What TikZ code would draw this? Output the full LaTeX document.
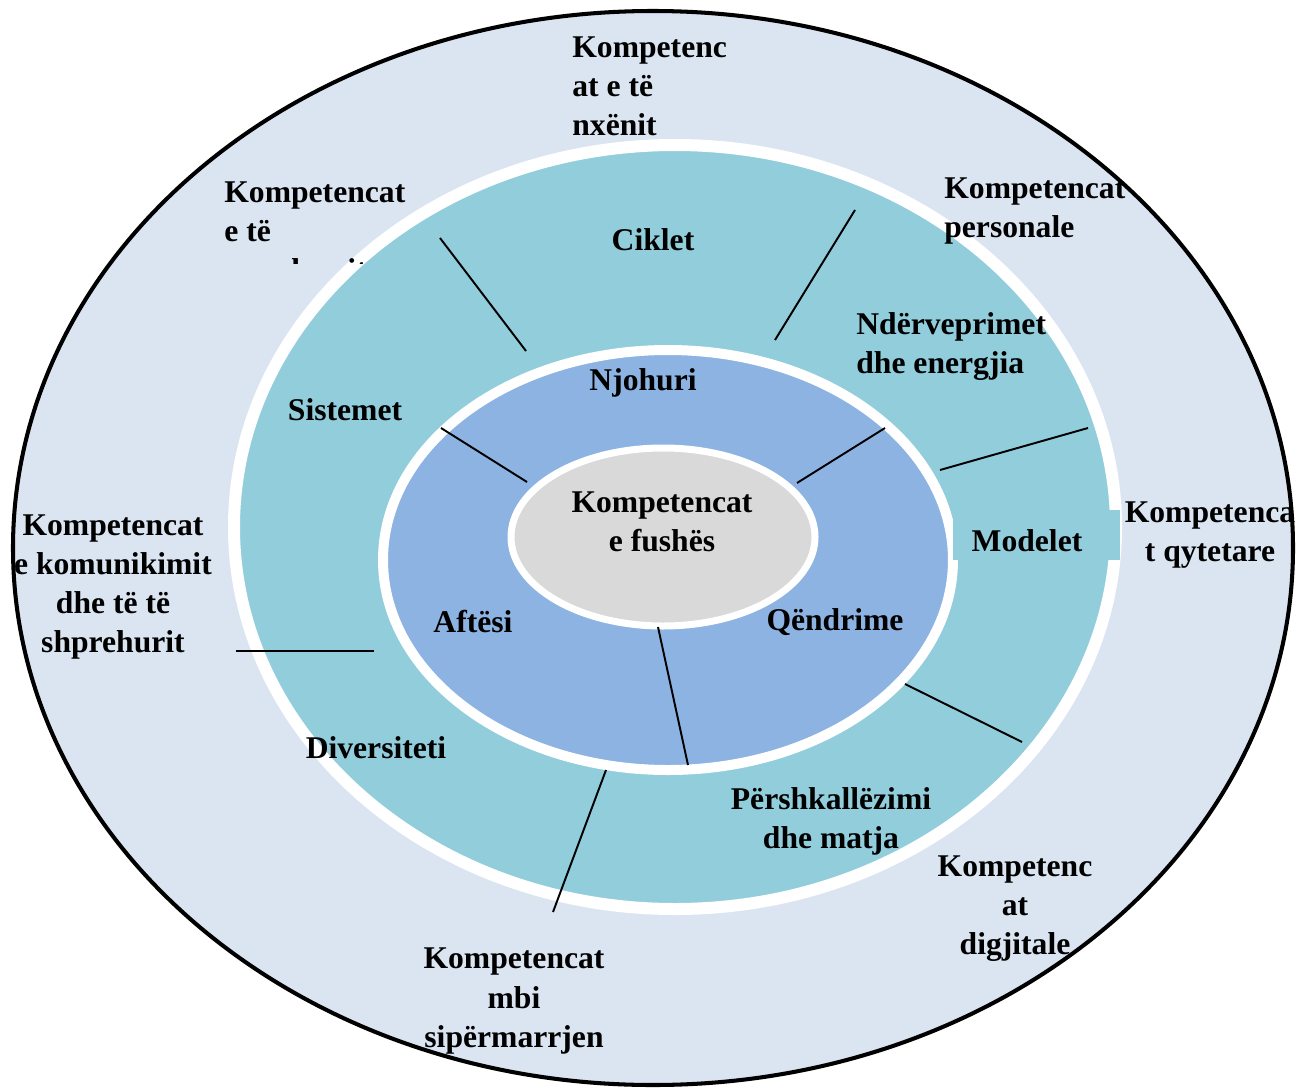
\documentclass[tikz,border=0pt]{standalone}
\usepackage{fontspec}
\setmainfont{Liberation Serif}
\usepackage{xcolor}
\usepackage{tikz}
\definecolor{outerblue}{HTML}{DBE5F1}
\definecolor{ringteal}{HTML}{92CDDC}
\definecolor{ringblue}{HTML}{8DB3E2}
\definecolor{coregray}{HTML}{D9D9D9}
\tikzstyle{lbl} = [font=\bfseries\fontsize{18}{22.2}\selectfont, inner sep=0pt, align=center]
\tikzstyle{lbll} = [lbl, align=left, anchor=west]
\tikzstyle{spoke} = [line width=1.1pt]

\begin{document}
\begin{tikzpicture}[x=0.02cm, y=-0.02cm]
    \useasboundingbox (0,0) rectangle (1297,1088);
    \fill[white] (0,0) rectangle (1297,1088);
    \fill[outerblue] (653,548) ellipse [x radius=640, y radius=537];
    \filldraw[fill=ringteal, draw=white, line width=0.24cm] (675,527) ellipse [x radius=441, y radius=382];
    \filldraw[fill=ringblue, draw=white, line width=0.2cm] (668,560) ellipse [x radius=285, y radius=210];
    \filldraw[fill=coregray, draw=white, line width=0.14cm] (663,537) ellipse [x radius=152, y radius=89];
    \fill[ringteal] (953,510) rectangle (1120,560);
    % spokes
    \draw[spoke] (440,238)--(526,351);
    \draw[spoke] (855,210)--(775,340);
    \draw[spoke] (1088,428)--(940,470);
    \draw[spoke] (905,684)--(1022,742);
    \draw[spoke] (606,770)--(553,912);
    \draw[spoke] (236,651)--(374,651);
    \draw[spoke] (441,428)--(527,482);
    \draw[spoke] (885,428)--(797,483);
    \draw[spoke] (658,627)--(688,765);
    % outer ring
    \node[lbll] (nxenit) at (572,86) {Kompetenc\\at e të\\nxënit};
    \begin{scope}
      \clip (200,160) rectangle (450,263);
      \node[lbll] (menduarit) at (224,231) {Kompetencat\\e të\\menduarit};
    \end{scope}
    \node[lbll] (personale) at (944,211) {Kompetencat\\personale};
    \node[lbl] (qytetare) at (1210,535) {Kompetenca\\t qytetare};
    \node[lbl] (komunikimit) at (113,587) {Kompetencat\\e komunikimit\\dhe të të\\shprehurit};
    \node[lbl] (sipermarrjen) at (514,1001) {Kompetencat\\mbi\\sipërmarrjen};
    \node[lbl] (digjitale) at (1015,909) {Kompetenc\\at\\digjitale};
    % middle ring
    \node[lbl] (ciklet) at (653,240) {Ciklet};
    \node[lbl] (sistemet) at (345,410) {Sistemet};
    \node[lbll] (nderveprimet) at (856,347) {Ndërveprimet\\dhe energjia};
    \node[lbl] (modelet) at (1027,541) {Modelet};
    \node[lbl] (diversiteti) at (376,748) {Diversiteti};
    \node[lbl] (pershkallezimi) at (831,821) {Përshkallëzimi\\dhe matja};
    % inner ring
    \node[lbl] (njohuri) at (643,383) {Njohuri};
    \node[lbl] (aftesi) at (473,622) {Aftësi};
    \node[lbl] (qendrime) at (835,622) {Qëndrime};
    \node[lbl] (fushes) at (662,522) {Kompetencat\\e fushës};
    \draw[line width=2.3pt] (653,548) ellipse [x radius=640, y radius=537];
\end{tikzpicture}
\end{document}
